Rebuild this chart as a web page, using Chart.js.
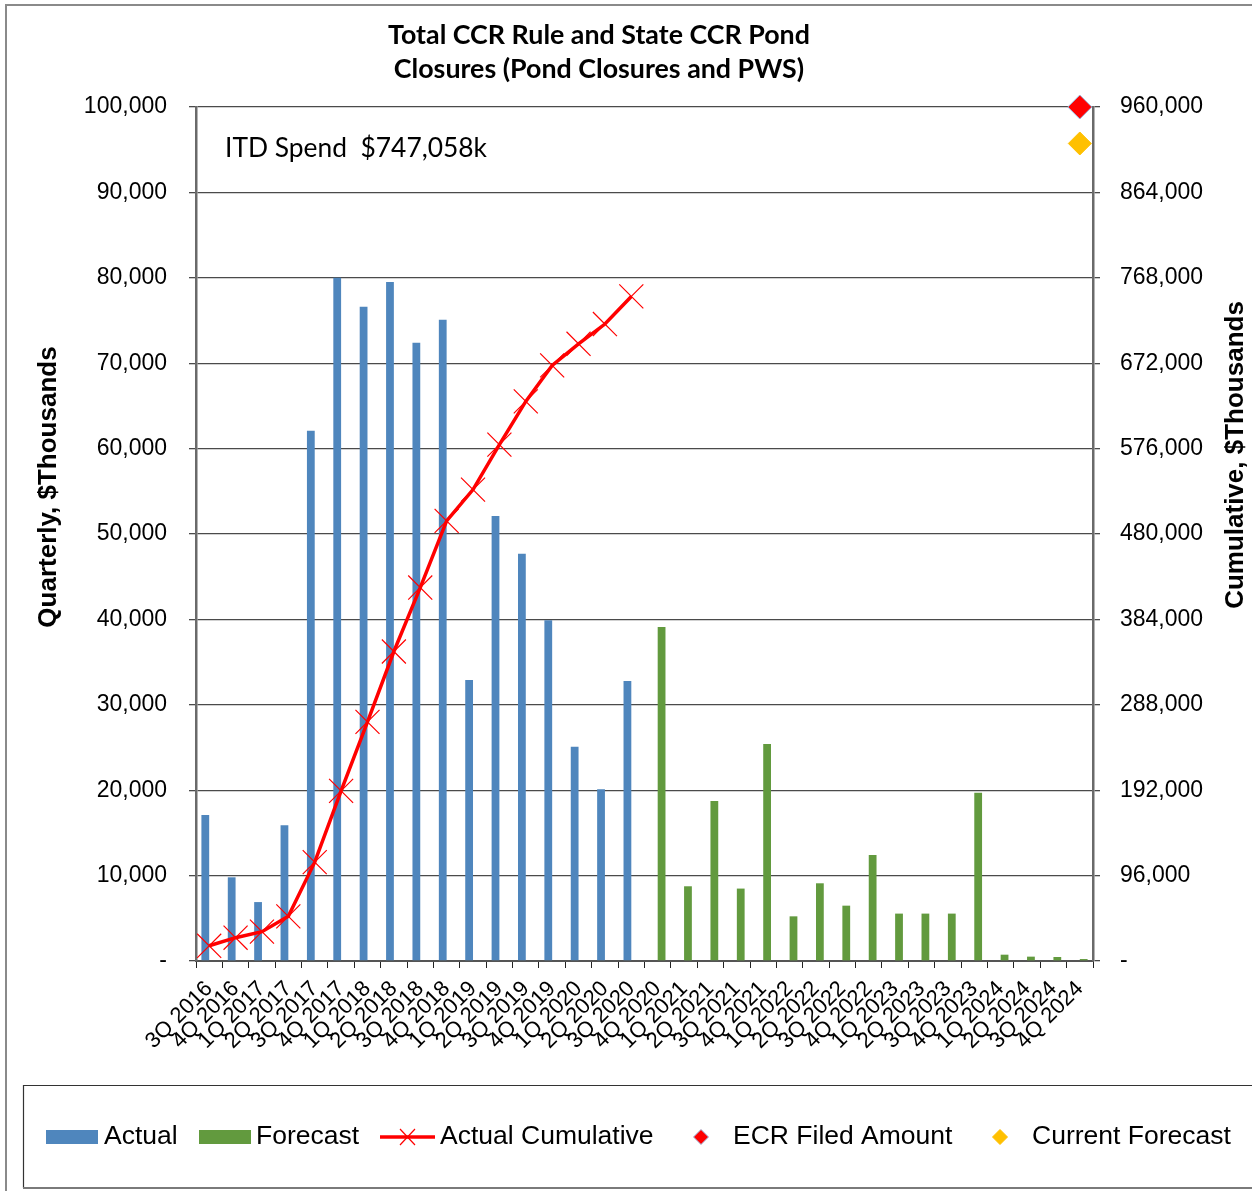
<!DOCTYPE html>
<html>
<head>
<meta charset="utf-8">
<script src="https://cdn.jsdelivr.net/npm/chart.js@4.4.1/dist/chart.umd.min.js"></script>
<style>
html,body{margin:0;padding:0;background:#fff;}
#wrap{width:1252px;height:1191px;position:relative;}
</style>
</head>
<body>
<div id="wrap"><canvas id="c" width="1252" height="1191"></canvas></div>
<script>
// ---- data ----
const categories = ['3Q 2016','4Q 2016','1Q 2017','2Q 2017','3Q 2017','4Q 2017','1Q 2018','2Q 2018','3Q 2018','4Q 2018',
  '1Q 2019','2Q 2019','3Q 2019','4Q 2019','1Q 2020','2Q 2020','3Q 2020','4Q 2020','1Q 2021','2Q 2021','3Q 2021','4Q 2021',
  '1Q 2022','2Q 2022','3Q 2022','4Q 2022','1Q 2023','2Q 2023','3Q 2023','4Q 2023','1Q 2024','2Q 2024','3Q 2024','4Q 2024'];
const actualValues = [17100, 9800, 6900, 15900, 62100, 80000, 76600, 79500, 72400, 75100, 32900, 52100, 47700, 39900, 25100, 20100, 32800,
  null, null, null, null, null, null, null, null, null, null, null, null, null, null, null, null, null];
const forecastValues = [null, null, null, null, null, null, null, null, null, null, null, null, null, null, null, null, null,
  39100, 8750, 18750, 8480, 25400, 5230, 9100, 6480, 12420, 5550, 5550, 5550, 19700, 740, 510, 470, 230];
const cumulativeValues = [17100, 26200, 33000, 50200, 111100, 191300, 268800, 347900, 419800, 494700, 529900, 580500, 629100, 669500, 693800, 716000, 747058,
  null, null, null, null, null, null, null, null, null, null, null, null, null, null, null, null, null];
const ecrFiledValues = [null, null, null, null, null, null, null, null, null, null, null, null, null, null, null, null, null,
  null, null, null, null, null, null, null, null, null, null, null, null, null, null, null, null, 960000];
const currentForecastValues = [null, null, null, null, null, null, null, null, null, null, null, null, null, null, null, null, null,
  null, null, null, null, null, null, null, null, null, null, null, null, null, null, null, null, 919000];
const leftAxisMax = 100000, leftAxisStep = 10000;
const rightAxisMax = 960000, rightAxisStep = 96000;
const titleLines = ['Total CCR Rule and State CCR Pond', 'Closures (Pond Closures and PWS)'];
const itdText = 'ITD Spend  $747,058k';
const leftTitle = 'Quarterly, $Thousands';
const rightTitle = 'Cumulative, $Thousands';
const legendLabels = ['Actual', 'Forecast', 'Actual Cumulative', 'ECR Filed Amount', 'Current Forecast'];

// ---- styles ----
const BLUE = '#4f86bd', GREEN = '#629a3e', RED = '#ff0000', GOLD = '#ffc000';
const SANS = '"Liberation Sans", Arial, sans-serif';
const HUMAN = 'Lato, "Open Sans", sans-serif';

function fitSize(ctx, text, weight, family, target) {
  ctx.font = weight + ' 100px ' + family;
  return 100 * target / ctx.measureText(text).width;
}
const fmt = v => v === 0 ? '-' : Number(v).toLocaleString('en-US');

const decor = {
  id: 'decor',
  afterDraw(chart) {
    const ctx = chart.ctx;
    ctx.save();
    // outer frame
    ctx.strokeStyle = '#8a8a8a'; ctx.lineWidth = 2;
    ctx.strokeRect(6, 5, 1260, 1200);
    // title
    ctx.fillStyle = '#000';
    ctx.textAlign = 'center'; ctx.textBaseline = 'middle';
    const ts = fitSize(ctx, titleLines[0], 'bold', HUMAN, 422);
    ctx.font = 'bold ' + ts.toFixed(2) + 'px ' + HUMAN;
    ctx.fillText(titleLines[0], 599, 35);
    ctx.fillText(titleLines[1], 599, 69);
    // ITD text
    const is = fitSize(ctx, itdText, 'normal', HUMAN, 262);
    ctx.font = 'normal ' + is.toFixed(2) + 'px ' + HUMAN;
    ctx.textAlign = 'left';
    ctx.fillText(itdText, 225, 148);
    // axis titles
    ctx.font = 'bold 26px ' + SANS;
    ctx.textAlign = 'center';
    ctx.save(); ctx.translate(49, 487); ctx.rotate(-Math.PI / 2); ctx.fillText(leftTitle, 0, 0); ctx.restore();
    ctx.save(); ctx.translate(1236, 455); ctx.rotate(-Math.PI / 2); ctx.fillText(rightTitle, 0, 0); ctx.restore();
    // legend box
    ctx.fillStyle = '#fff';
    ctx.fillRect(23, 1085, 1240, 103);
    ctx.strokeStyle = '#333'; ctx.lineWidth = 1.2;
    ctx.beginPath(); ctx.moveTo(23.5, 1188); ctx.lineTo(23.5, 1085.5); ctx.lineTo(1260, 1085.5); ctx.stroke();
    ctx.strokeStyle = '#7a7a7a'; ctx.lineWidth = 2;
    ctx.beginPath(); ctx.moveTo(23, 1188); ctx.lineTo(1260, 1188); ctx.stroke();
    const ly = 1137;
    ctx.font = '26.5px ' + SANS; ctx.textAlign = 'left'; ctx.textBaseline = 'middle';
    ctx.fillStyle = BLUE; ctx.fillRect(46, 1130, 52, 14);
    ctx.fillStyle = GREEN; ctx.fillRect(199, 1130, 52, 14);
    ctx.strokeStyle = RED; ctx.lineWidth = 3.5;
    ctx.beginPath(); ctx.moveTo(380, ly); ctx.lineTo(435, ly); ctx.stroke();
    ctx.lineWidth = 1.2;
    ctx.beginPath(); ctx.moveTo(400, ly - 8); ctx.lineTo(415, ly + 8); ctx.moveTo(415, ly - 8); ctx.lineTo(400, ly + 8); ctx.stroke();
    function diamond(x, y, r, fill, stroke) {
      ctx.beginPath(); ctx.moveTo(x - r, y); ctx.lineTo(x, y - r); ctx.lineTo(x + r, y); ctx.lineTo(x, y + r); ctx.closePath();
      ctx.fillStyle = fill; ctx.fill(); ctx.strokeStyle = stroke; ctx.lineWidth = 1; ctx.stroke();
    }
    diamond(701, ly, 7.5, RED, '#9bb7dd');
    diamond(1000, ly, 7.5, GOLD, GOLD);
    ctx.fillStyle = '#000';
    ctx.fillText(legendLabels[0], 104, ly);
    ctx.fillText(legendLabels[1], 256, ly);
    ctx.fillText(legendLabels[2], 440, ly);
    ctx.fillText(legendLabels[3], 733, ly);
    ctx.fillText(legendLabels[4], 1032, ly);
    ctx.restore();
  }
};

new Chart(document.getElementById('c'), {
  type: 'bar',
  data: {
    labels: categories,
    datasets: [
      { label: 'ECR Filed Amount', type: 'line', data: ecrFiledValues, yAxisID: 'y1', showLine: false,
        pointStyle: 'rectRot', pointRadius: 12, pointBackgroundColor: RED, pointBorderColor: '#9bb7dd', pointBorderWidth: 1,
        backgroundColor: RED, borderColor: RED, clip: false, order: 0 },
      { label: 'Current Forecast', type: 'line', data: currentForecastValues, yAxisID: 'y1', showLine: false,
        pointStyle: 'rectRot', pointRadius: 11.5, pointBackgroundColor: GOLD, pointBorderColor: GOLD, pointBorderWidth: 1,
        backgroundColor: GOLD, borderColor: GOLD, clip: false, order: 0 },
      { label: 'Actual Cumulative', type: 'line', data: cumulativeValues, yAxisID: 'y1',
        borderColor: RED, borderWidth: 3.5, tension: 0, spanGaps: false,
        pointStyle: 'crossRot', pointRadius: 17, pointBorderWidth: 1.2, pointBorderColor: RED, pointBackgroundColor: RED,
        clip: false, order: 1 },
      { label: 'Actual', data: actualValues, backgroundColor: BLUE, yAxisID: 'y',
        barPercentage: 1, categoryPercentage: 0.59, order: 2 },
      { label: 'Forecast', data: forecastValues, backgroundColor: GREEN, yAxisID: 'y',
        barPercentage: 1, categoryPercentage: 0.59, order: 3 }
    ]
  },
  options: {
    responsive: false,
    animation: false,
    devicePixelRatio: 1,
    layout: { padding: { top: 107, left: 0, right: 0, bottom: 0 } },
    plugins: {
      legend: { display: false },
      title: { display: false },
      tooltip: { enabled: false }
    },
    scales: {
      x: {
        offset: true,
        grid: { display: true, drawOnChartArea: false, drawTicks: true, tickLength: 7, offset: true, color: '#222', lineWidth: 1 },
        border: { display: true, color: '#555', width: 2 },
        ticks: { autoSkip: false, minRotation: 45, maxRotation: 45, color: '#000', padding: 8,
          font: { family: SANS, size: 22 } },
        afterFit(s) { s.height = 230; }
      },
      y: {
        position: 'left', min: 0, max: leftAxisMax,
        ticks: { stepSize: leftAxisStep, callback: fmt, color: '#000', padding: 22, font: { family: SANS, size: 23 } },
        grid: { color: '#4a4a4a', lineWidth: 1.3, tickLength: 7, drawTicks: true },
        border: { display: true, color: '#6a6a6a', width: 2.5 },
        afterFit(s) { s.width = 196; }
      },
      y1: {
        position: 'right', min: 0, max: rightAxisMax,
        ticks: { stepSize: rightAxisStep, callback: fmt, color: '#000', padding: 20, font: { family: SANS, size: 23 } },
        grid: { drawOnChartArea: false, tickLength: 7, drawTicks: true, color: '#4a4a4a', lineWidth: 1.3 },
        border: { display: true, color: '#6a6a6a', width: 2.5 },
        afterFit(s) { s.width = 159; }
      }
    }
  },
  plugins: [decor]
});
</script>
</body>
</html>
